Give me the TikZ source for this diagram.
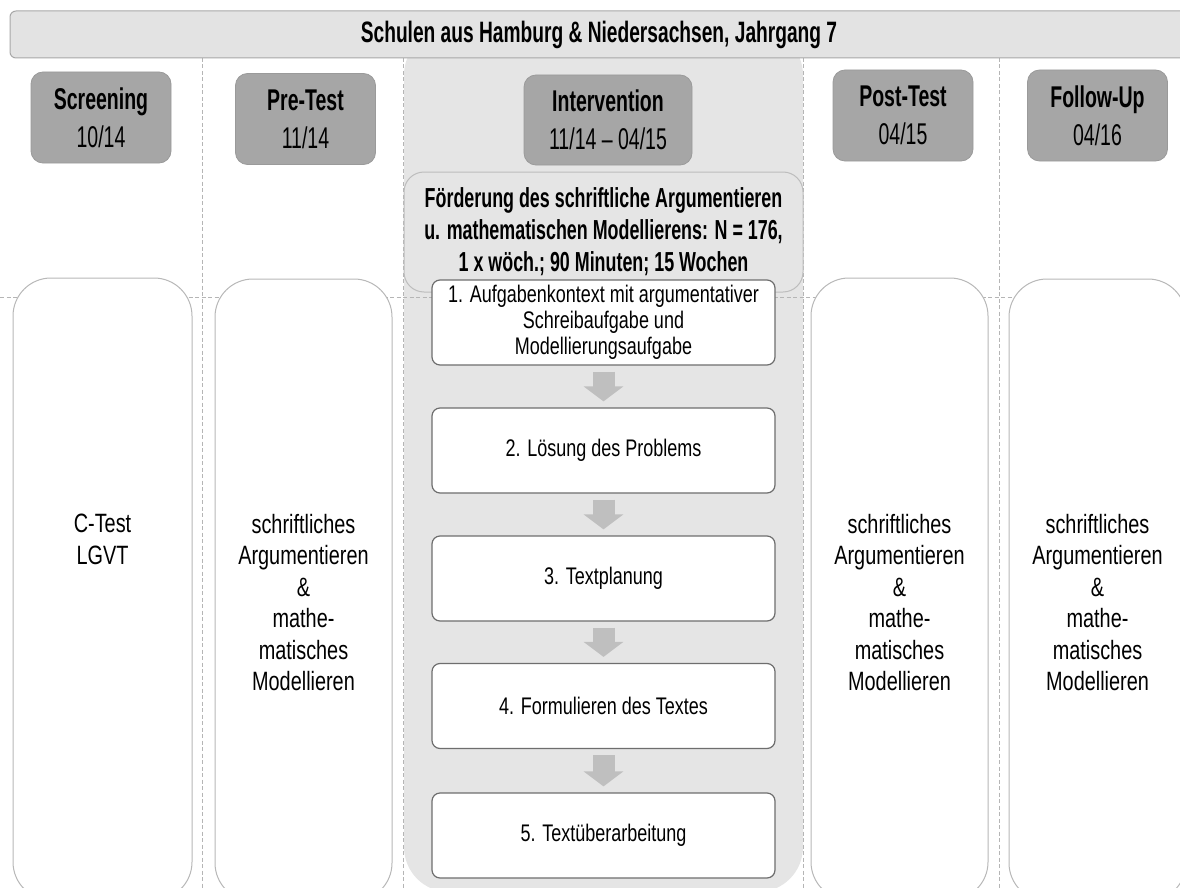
\documentclass[tikz,border=0pt]{standalone}
\usepackage{fontspec}
\setmainfont{Liberation Sans}[FakeStretch=0.75]
\newfontfamily\headfont{Liberation Sans}[FakeStretch=0.65]
\usetikzlibrary{arrows.meta}
\definecolor{headgray}{HTML}{A6A6A6}
\definecolor{headline}{HTML}{9A9A9A}
\definecolor{bargray}{HTML}{E3E3E3}
\definecolor{barline}{HTML}{A8A8A8}
\definecolor{panelgray}{HTML}{E5E5E5}
\definecolor{boxline}{HTML}{BDBDBD}
\definecolor{stepline}{HTML}{6E6E6E}
\definecolor{sideline}{HTML}{B8B8B8}
\definecolor{dashgray}{HTML}{B5B5B5}
\definecolor{arrowgray}{HTML}{BFBFBF}
\tikzset{
  titlebar/.style={fill=bargray,draw=barline,line width=1pt,rounded corners=6pt,minimum width=1178pt,minimum height=47pt,inner sep=0pt,font=\headfont\fontsize{29.5}{34}\selectfont\bfseries},
  phase/.style={fill=headgray,draw=headline,line width=0.8pt,rounded corners=12pt,minimum width=140pt,minimum height=91pt,inner sep=0pt,align=center,font=\headfont\fontsize{30}{38}\selectfont},
  infobox/.style={fill=panelgray,draw=boxline,line width=1pt,rounded corners=20pt,minimum width=399pt,minimum height=120pt,inner sep=0pt,align=center,font=\headfont\fontsize{27.5}{32}\selectfont\bfseries},
  stepbox/.style={fill=white,draw=stepline,line width=1.2pt,rounded corners=8pt,minimum width=343pt,minimum height=85pt,inner sep=0pt,align=center,font=\fontsize{24}{26}\selectfont},
  sidebox/.style={fill=white,draw=sideline,line width=1pt,rounded corners=38pt,minimum height=622pt,inner sep=0pt},
  sidetext/.style={anchor=north,inner sep=0pt,align=center,font=\fontsize{26.5}{31.5}\selectfont},
  divider/.style={draw=dashgray,line width=0.8pt,dash pattern=on 4pt off 2.5pt},
  stepflow/.style={draw=arrowgray,line width=22pt,-{Triangle[length=15pt 0 0,width=39pt 0 0]},shorten <=6pt,shorten >=6pt}
}
\begin{document}
\begin{tikzpicture}[x=1pt,y=-1pt]
  \useasboundingbox (0,0) rectangle (1180,888);
  \fill[panelgray,rounded corners=45pt] (404,30) rectangle (803,892);
  \foreach \x in {202,403,803,999}{\draw[divider] (\x,58) -- (\x,888);}
  \draw[divider] (0,297) -- (1180,297);
  \node[titlebar] (title) at (599,34.5) {Schulen aus Hamburg \& Niedersachsen, Jahrgang 7};

  \node[phase] (screen) at (101,117.5) {\textbf{Screening}\\10/14};
  \node[phase] (pre) at (305.5,119) {\textbf{Pre-Test}\\11/14};
  \node[phase,minimum width=168pt,minimum height=90pt] (interv) at (608,120) {\textbf{Intervention}\\11/14 – 04/15};
  \node[phase] (post) at (903,115.5) {\textbf{Post-Test}\\04/15};
  \node[phase] (follow) at (1097.5,115.5) {\textbf{Follow-Up}\\04/16};
  \node[infobox] (foerd) at (603.5,232) {Förderung des schriftliche Argumentieren\\u. mathematischen Modellierens: N = 176,\\1 x wöch.; 90 Minuten; 15 Wochen};

  \foreach \i/\y/\t in {1/322.5/{1. Aufgabenkontext mit argumentativer\\Schreibaufgabe und\\Modellierungsaufgabe},
      2/450.5/{2. Lösung des Problems},3/578.5/{3. Textplanung},
      4/706/{4. Formulieren des Textes},5/835.5/{5. Textüberarbeitung}}{
    \node[stepbox] (s\i) at (603.5,\y) {\t};}
  \foreach \i/\j in {1/2,2/3,3/4,4/5}{\draw[stepflow] (s\i) -- (s\j);}

  \foreach \n/\x/\y/\w in {sbscreen/102.5/589/179,sbpre/303.5/590/177,sbpost/899.5/589/177,sbfollow/1097.5/590/177}{
    \node[sidebox,minimum width=\w pt] (\n) at (\x,\y) {};}
  \node[sidetext] (tscreen) at (sbscreen.north |- 0,514) {C-Test\\LGVT};
  \foreach \n in {pre,post,follow}{
    \node[sidetext] (t\n) at (sb\n.north |- 0,514) {schriftliches\\Argumentieren\\\&\\mathe-\\matisches\\Modellieren};}
\end{tikzpicture}
\end{document}
